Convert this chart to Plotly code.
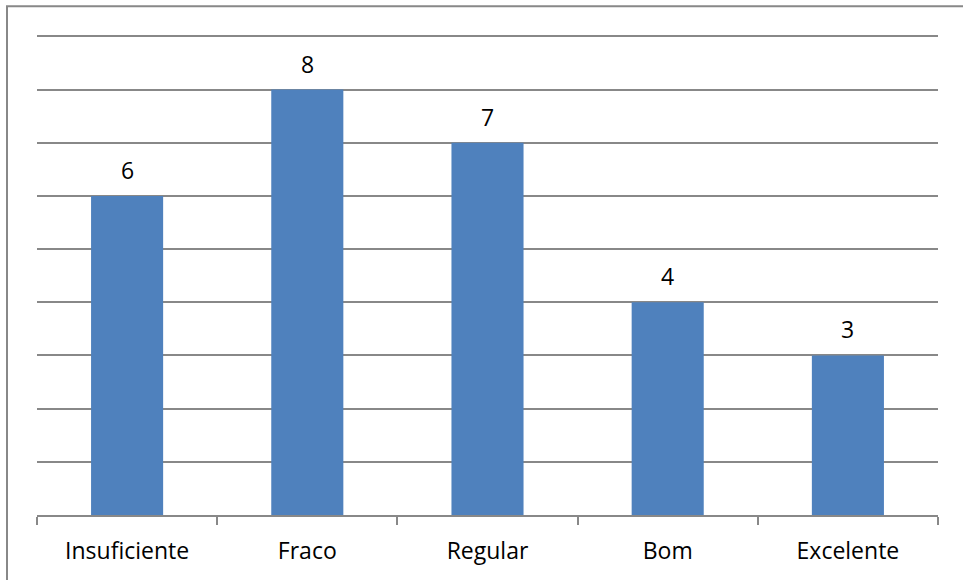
import plotly.graph_objects as go

categories = ["Insuficiente", "Fraco", "Regular", "Bom", "Excelente"]
values = [6, 8, 7, 4, 3]

fig = go.Figure()
fig.add_trace(go.Bar(
    x=categories, y=values, width=0.4,
    marker=dict(color="#4F81BD", line=dict(width=0)),
    cliponaxis=False, hoverinfo="skip",
))
for c, v in zip(categories, values):
    fig.add_annotation(x=c, y=v, text=str(v), showarrow=False, yanchor="bottom",
                       yshift=8, font=dict(family="Open Sans", size=23, color="#000000"))

fig.update_layout(
    width=963, height=580,
    margin=dict(l=37, r=25, t=31, b=65),
    paper_bgcolor="white", plot_bgcolor="white",
    showlegend=False,
    font=dict(family="Open Sans", size=23, color="#000000"),
    xaxis=dict(
        showline=True, linecolor="#888888", linewidth=1.5,
        ticks="outside", tickson="boundaries", ticklen=8, tickcolor="#888888", tickwidth=1.5,
        showgrid=False, tickfont=dict(size=23, family="Open Sans"), ticklabelstandoff=15,
    ),
    yaxis=dict(
        range=[0, 9.1], tickvals=list(range(1, 10)), showticklabels=False, showgrid=True,
        gridcolor="#888888", gridwidth=1.5, zeroline=False, showline=False, ticks="",
    ),
    shapes=[dict(type="rect", xref="paper", yref="paper",
                 x0=(7 - 37) / 901, x1=1.2, y0=-0.5, y1=(515 - 6) / 484.3,
                 line=dict(color="#888888", width=2), fillcolor="rgba(0,0,0,0)", layer="below")],
    bargap=0.6,
)
fig.write_html("out.html", config={"displayModeBar": False},
               post_script="document.body.style.margin='0';")
